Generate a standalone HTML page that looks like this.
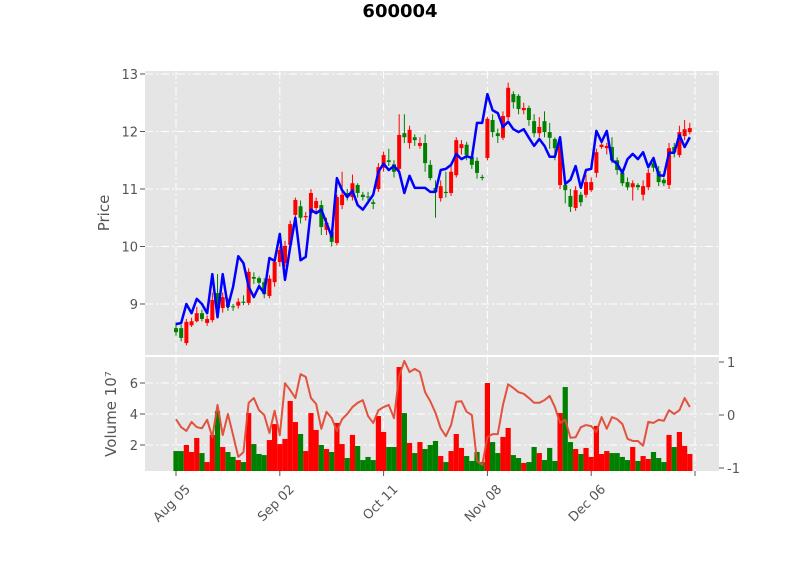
<!DOCTYPE html>
<html><head><meta charset="utf-8"><style>
body{margin:0;background:#fff;}
svg{display:block;font-family:"DejaVu Sans","Liberation Sans",sans-serif;}
</style></head><body>
<svg id="chart" width="800" height="575" viewBox="0 0 800 575" xmlns="http://www.w3.org/2000/svg">
<text x="400" y="17" text-anchor="middle" font-size="18" font-weight="bold" fill="#000">600004</text>
<rect x="145" y="71" width="574" height="284" fill="#e5e5e5"/>
<rect x="145" y="357" width="574" height="114" fill="#e5e5e5"/>
<g id="grid"></g><g id="vol"></g><g id="candles"></g><g id="lines"></g><g id="axes"></g>
<text transform="translate(109,213) rotate(-90)" text-anchor="middle" font-size="15" fill="#555">Price</text>
<text transform="translate(116,414) rotate(-90)" text-anchor="middle" font-size="15" fill="#555">Volume  10⁷</text>
</svg>
<script>
const xTickIdx=[0,20,40,60,80,100];
const xTickLabels=["Aug 05","Sep 02","Oct 11","Nov 08","Dec 06",""];
const priceTicks=[9,10,11,12,13];
const volTicks=[2,4,6];
const rTicks=[1,0,-1];
const opens=[8.58,8.58,8.32,8.63,8.70,8.84,8.67,8.72,9.19,8.93,9.00,8.96,8.97,9.04,9.02,9.47,9.45,9.38,9.14,9.38,9.73,9.71,10.03,10.55,10.70,10.51,10.58,10.67,10.72,10.29,10.25,10.06,10.72,10.93,10.86,11.07,10.90,10.87,10.77,11.00,11.37,11.50,11.43,11.35,11.97,11.80,11.90,11.75,11.80,11.42,11.02,10.84,10.95,10.93,11.24,11.71,11.77,11.56,11.49,11.21,11.54,12.20,11.97,11.89,12.25,12.65,12.62,12.37,12.41,12.18,11.97,12.18,11.99,11.87,11.07,11.07,10.88,10.67,10.90,10.90,10.98,11.28,11.73,11.71,11.73,11.50,11.28,11.12,11.03,11.07,10.90,11.03,11.45,11.31,11.16,11.07,11.73,11.59,11.92,11.99];
const closes=[8.51,8.41,8.69,8.70,8.84,8.74,8.74,9.07,8.95,9.12,8.95,8.95,9.04,9.02,9.56,9.44,9.37,9.17,9.44,9.73,9.94,10.01,10.39,10.81,10.50,10.53,10.93,10.79,10.34,10.41,10.08,10.86,10.90,10.86,11.10,10.93,10.86,10.86,10.74,11.38,11.59,11.47,11.30,11.94,11.90,12.03,11.85,11.80,11.45,11.19,10.95,11.05,10.93,11.30,11.85,11.78,11.59,11.42,11.28,11.19,12.22,11.99,11.92,12.27,12.76,12.51,12.39,12.41,12.20,11.97,12.08,11.99,11.89,11.71,11.82,10.98,10.69,10.98,10.77,11.12,11.12,11.64,11.77,11.75,11.50,11.33,11.10,11.03,11.10,11.03,11.05,11.28,11.37,11.12,11.10,11.71,11.64,11.99,12.04,12.06];
const highs=[8.68,8.64,8.74,8.76,8.95,8.90,8.80,9.20,9.52,9.20,9.10,9.00,9.10,9.15,9.62,9.55,9.48,9.45,9.50,9.80,10.00,10.10,10.45,10.85,10.80,10.60,11.00,10.85,10.80,10.50,10.30,10.90,11.30,11.00,11.25,11.10,10.95,10.95,10.82,11.45,11.65,11.70,11.50,12.30,12.30,12.10,11.95,11.90,11.95,11.50,11.15,11.15,11.30,11.40,11.90,11.85,11.82,11.65,11.55,11.25,12.25,12.30,12.05,12.35,12.85,12.70,12.65,12.50,12.45,12.30,12.25,12.35,12.15,11.90,11.90,11.15,11.00,11.05,10.95,11.25,11.20,11.70,11.80,11.80,11.90,11.55,11.35,11.20,11.15,11.10,11.15,11.35,11.52,11.40,11.20,11.80,11.80,12.10,12.20,12.15];
const lows=[8.45,8.35,8.28,8.60,8.68,8.70,8.62,8.68,8.90,8.85,8.88,8.88,8.92,8.98,8.98,9.35,9.30,9.10,9.10,9.30,9.65,9.65,9.98,10.45,10.40,10.45,10.50,10.60,10.20,10.20,10.00,10.02,10.65,10.80,10.80,10.85,10.80,10.78,10.65,10.95,11.30,11.40,11.20,11.30,11.80,11.70,11.75,11.70,11.30,11.15,10.50,10.78,10.85,10.88,11.20,11.60,11.50,11.35,11.18,11.15,11.50,11.90,11.80,11.85,12.20,12.40,12.30,12.30,12.10,11.90,11.90,11.90,11.70,11.50,11.00,10.75,10.60,10.62,10.70,10.85,10.95,11.20,11.70,11.60,11.45,11.25,11.05,10.98,10.80,10.98,10.80,10.98,11.30,11.05,11.05,11.00,11.55,11.55,11.85,11.95];
const blueLine=[8.65,8.67,9.00,8.84,9.09,9.00,8.84,9.52,8.77,9.52,8.95,9.30,9.83,9.71,9.30,9.12,9.31,9.19,9.80,9.75,10.22,9.42,9.99,10.50,9.76,9.82,10.64,10.58,10.64,10.41,10.17,11.19,10.98,10.86,10.97,10.72,10.64,10.77,10.90,11.30,11.44,11.33,11.40,11.30,10.93,11.23,11.02,11.02,11.02,10.95,10.95,11.33,11.35,11.42,11.61,11.52,11.57,11.54,12.15,12.15,12.65,12.37,12.32,12.08,12.17,12.04,11.99,12.04,11.89,11.75,11.87,11.75,11.56,11.56,11.90,11.09,11.16,11.40,11.02,11.33,11.35,12.01,11.82,12.01,11.50,11.44,11.28,11.52,11.61,11.52,11.64,11.38,11.54,11.24,11.23,11.63,11.63,11.94,11.73,11.90];
const volumes=[1.61,1.61,2.0,1.55,2.45,1.48,0.9,2.65,4.19,1.87,1.55,1.23,1.03,0.9,4.06,2.06,1.42,1.35,2.32,3.35,2.06,2.39,4.84,3.48,2.71,1.61,4.06,2.97,2.0,1.74,1.55,3.42,2.06,1.16,2.65,1.94,1.03,1.23,1.03,3.87,2.84,1.87,1.87,7.03,4.06,2.13,1.48,2.19,1.74,2.0,2.26,1.29,0.9,1.61,2.71,1.81,1.29,0.97,1.55,0.9,6.0,2.19,1.48,2.52,3.1,1.35,1.16,0.84,0.9,1.87,1.48,1.03,1.81,0.97,4.06,5.74,2.19,1.74,1.42,1.81,1.23,3.23,1.42,1.61,1.48,1.48,1.23,1.03,1.87,0.97,1.29,1.1,1.55,1.16,0.9,2.65,1.87,2.84,1.94,1.42];
const redLine=[-0.08,-0.23,-0.30,-0.13,-0.23,-0.25,-0.09,-0.42,0.19,-0.38,0.02,-0.38,-0.79,-0.70,0.23,0.32,0.09,0.0,-0.34,0.08,-0.38,0.60,0.47,0.32,0.77,0.72,0.32,0.21,-0.26,0.06,-0.06,-0.30,-0.08,0.02,0.15,0.23,0.28,-0.02,-0.15,0.09,0.15,0.19,-0.06,0.74,1.02,0.81,0.87,0.81,0.43,0.26,0.04,-0.25,-0.40,-0.19,0.25,0.26,0.06,0.0,-0.87,-0.94,-0.42,-0.36,-0.36,0.19,0.58,0.51,0.43,0.40,0.32,0.23,0.23,0.28,0.36,0.15,-0.15,-0.09,-0.43,-0.42,-0.23,-0.19,-0.21,-0.32,-0.04,-0.26,-0.04,-0.08,-0.17,-0.45,-0.49,-0.49,-0.58,-0.13,-0.15,-0.09,-0.11,0.09,0.02,0.09,0.32,0.15];

const NS="http://www.w3.org/2000/svg";
const X=i=>176+5.19*i;
const PY=p=>74+(13-p)*57.5;
const VY=v=>476-15.5*v;
const RY=r=>415-53*r;
function mk(parent,tag,attrs){const e=document.createElementNS(NS,tag);for(const k in attrs)e.setAttribute(k,attrs[k]);document.getElementById(parent).appendChild(e);return e;}

xTickIdx.forEach((t,k)=>{
  let g=mk('grid','line',{x1:X(t),x2:X(t),y1:71,y2:355,stroke:'#fff','stroke-width':1,'stroke-dasharray':'8,3,2,3'});
  
  
  let g2=mk('grid','line',{x1:X(t),x2:X(t),y1:357,y2:471,stroke:'#fff','stroke-width':1,'stroke-dasharray':'8,3,2,3'});
  
  
  let tm=mk('axes','line',{x1:X(t),x2:X(t),y1:471,y2:476,stroke:'#555'});
  
  
  let tx=mk('axes','text',{transform:`translate(${X(t)+15},${490}) rotate(-45)`,'text-anchor':'end','font-size':13,fill:'#555'});
  tx.textContent=xTickLabels[k];
  
  
});
priceTicks.forEach(p=>{
  let g=mk('grid','line',{x1:145,x2:719,y1:PY(p),y2:PY(p),stroke:'#fff','stroke-width':1,'stroke-dasharray':'8,3,2,3'});
  
  
  let tm=mk('axes','line',{x1:140,x2:145,y1:PY(p),y2:PY(p),stroke:'#555'});
  
  
  let tx=mk('axes','text',{x:138,y:PY(p)+5,'text-anchor':'end','font-size':13,fill:'#555'});
  tx.textContent=p;
  
  
});
volTicks.forEach(v=>{
  let g=mk('grid','line',{x1:145,x2:719,y1:VY(v),y2:VY(v),stroke:'#fff','stroke-width':1,'stroke-dasharray':'8,3,2,3'});
  
  
  let tm=mk('axes','line',{x1:140,x2:145,y1:VY(v),y2:VY(v),stroke:'#555'});
  
  
  let tx=mk('axes','text',{x:138,y:VY(v)+5,'text-anchor':'end','font-size':13,fill:'#555'});
  tx.textContent=v;
  
  
});
rTicks.forEach(r=>{
  let tm=mk('axes','line',{x1:719,x2:724,y1:RY(r),y2:RY(r),stroke:'#555'});
  
  
  let tx=mk('axes','text',{x:727,y:RY(r)+5,'font-size':13,fill:'#555'});
  tx.textContent=r;
  
  
});
volumes.forEach((v,i)=>{
  const up=closes[i]>=opens[i];
  const top=Math.max(VY(v),357);
  let b=mk('vol','rect',{x:X(i)-2.6,y:top,width:5.2,height:Math.max(0,471-top),fill:up?'#ff0000':'#008000'});
  
  
});
opens.forEach((o,i)=>{
  const c=closes[i],up=c>=o,col=up?'#ff0000':'#008000';
  let w=mk('candles','line',{x1:X(i),x2:X(i),y1:PY(highs[i]),y2:PY(lows[i]),stroke:col,'stroke-width':1});
  
  
  const y1=PY(Math.max(o,c)),y2=PY(Math.min(o,c));
  let r=mk('candles','rect',{x:X(i)-2,y:y1,width:4,height:Math.max(1,y2-y1),fill:col});
  
  
});
let bl=mk('lines','polyline',{points:blueLine.map((p,i)=>X(i)+','+PY(p)).join(' '),fill:'none',stroke:'#0000ff','stroke-width':2.5,'stroke-linejoin':'round'});


let rl=mk('lines','polyline',{points:redLine.map((r,i)=>X(i)+','+RY(r)).join(' '),fill:'none',stroke:'#e24a33','stroke-width':2,'stroke-linejoin':'round','stroke-opacity':0.95});


</script>
</body></html>
